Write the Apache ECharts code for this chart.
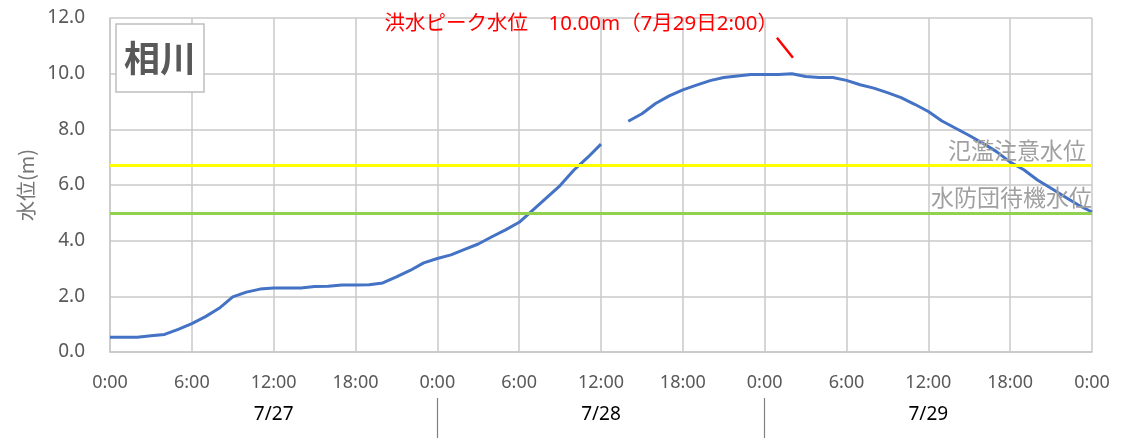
<!DOCTYPE html>
<html>
<head>
<meta charset="utf-8">
<script src="https://cdn.jsdelivr.net/npm/echarts@6/dist/echarts.min.js"></script>
<style>
  html, body { margin: 0; padding: 0; background: #fff; }
  #chart { width: 1124px; height: 438px; }
</style>
</head>
<body>
<div id="chart"></div>
<script>
// 相川 water level, hourly readings from 7/27 0:00 to 7/30 0:00 (hour index 0–72)
const stationName = '相川';
const levels = [
  0.53, 0.53, 0.53, 0.58, 0.63, 0.81, 1.02, 1.27, 1.57, 1.98,
  2.15, 2.26, 2.30, 2.30, 2.30, 2.35, 2.36, 2.41, 2.41, 2.42,
  2.48, 2.70, 2.93, 3.20, 3.36, 3.49, 3.69, 3.88, 4.14, 4.39,
  4.66, 5.10, 5.54, 5.98, 6.53, 6.98, 7.47, null, 8.29, 8.56,
  8.93, 9.20, 9.42, 9.59, 9.75, 9.86, 9.92, 9.97, 9.97, 9.97,
  10.00, 9.90, 9.86, 9.86, 9.76, 9.60, 9.48, 9.32, 9.14, 8.90,
  8.64, 8.30, 8.04, 7.78, 7.50, 7.20, 6.82, 6.55, 6.18, 5.88,
  5.58, 5.28, 5.03
];

// day labels below the time axis, one per 24 hours
const dayLabels = ['7/27', '7/28', '7/29'];

// reference levels
const thresholdNames = ['氾濫注意水位', '水防団待機水位'];
const thresholdLevels = [6.7, 5.0];
const thresholdColors = ['#ffff00', '#92d050'];

// flood peak
const peakHour = 50;
const peakLevel = levels[peakHour];
const peakText = '洪水ピーク水位　' + peakLevel.toFixed(2) + 'm（7月29日2:00）';

const seriesData = levels.map((v, h) => [h, v]);

const gridColor = '#c8c8c8';
const labelColor = '#595959';
const latin = '"Noto Sans", "Noto Sans CJK JP", sans-serif';
const cjk = '"Noto Sans CJK JP", "Noto Sans", sans-serif';

const chart = echarts.init(document.getElementById('chart'), null, { renderer: 'canvas' });

chart.setOption({
  animation: false,
  backgroundColor: '#ffffff',
  title: {
    text: stationName,
    left: 116,
    top: 24,
    padding: [16, 8],
    backgroundColor: '#ffffff',
    borderColor: '#bfbfbf',
    borderWidth: 1.5,
    textStyle: { fontSize: 36, fontWeight: 'bold', color: labelColor, fontFamily: cjk }
  },
  grid: { left: 110, right: 32, top: 18, bottom: 86, containLabel: false },
  xAxis: [
    {
      type: 'value',
      min: 0,
      max: 72,
      interval: 6,
      axisLine: { show: true, lineStyle: { color: gridColor, width: 1.5 } },
      axisTick: { show: false },
      splitLine: { show: true, lineStyle: { color: gridColor, width: 1.5 } },
      axisLabel: {
        margin: 22,
        fontSize: 18,
        color: labelColor,
        fontFamily: latin,
        formatter: v => (v % 24) + ':00'
      }
    },
    {
      type: 'value',
      min: 0,
      max: 72,
      position: 'bottom',
      offset: 46,
      axisLine: { show: false },
      splitLine: { show: false },
      axisTick: {
        show: true,
        customValues: [24, 48],
        length: 42,
        lineStyle: { color: '#808080', width: 1.2 }
      },
      axisLabel: {
        customValues: [12, 36, 60],
        margin: 7,
        fontSize: 19,
        color: '#000000',
        fontFamily: latin,
        formatter: v => dayLabels[Math.floor(v / 24)]
      }
    }
  ],
  yAxis: {
    type: 'value',
    min: 0,
    max: 12,
    interval: 2,
    name: '水位(m)',
    nameLocation: 'middle',
    nameGap: 73,
    nameTextStyle: { fontSize: 20, color: '#767676', fontFamily: cjk },
    axisLine: { show: true, lineStyle: { color: gridColor, width: 1.5 } },
    axisTick: { show: false },
    splitLine: { show: true, lineStyle: { color: gridColor, width: 1.5 } },
    axisLabel: {
      margin: 25,
      fontSize: 19,
      color: labelColor,
      fontFamily: latin,
      formatter: v => v.toFixed(1)
    }
  },
  series: [
    {
      name: 'thresholds',
      type: 'line',
      data: [],
      z: 1,
      silent: true,
      markLine: {
        silent: true,
        symbol: 'none',
        animation: false,
        data: thresholdLevels.map((lv, i) => ({
          yAxis: lv,
          lineStyle: { color: thresholdColors[i], width: 3, type: 'solid' },
          label: {
            show: true,
            position: 'insideEndTop',
            formatter: thresholdNames[i],
            fontSize: 23,
            color: '#a0a0a0',
            fontFamily: cjk,
            distance: [i === 0 ? 6 : 0, 4]
          }
        }))
      }
    },
    {
      name: '水位',
      type: 'line',
      data: seriesData,
      z: 3,
      showSymbol: false,
      symbol: 'none',
      connectNulls: false,
      lineStyle: { color: '#4472c4', width: 3 },
      silent: true
    }
  ]
});

// peak annotation with a short leader line, anchored to the peak point
const peak = chart.convertToPixel({ seriesIndex: 1 }, [peakHour, peakLevel]);
chart.setOption({
  graphic: [
    {
      type: 'text',
      x: peak[0] - 14,
      y: peak[1] - 50,
      style: {
        text: peakText,
        fill: '#ff0000',
        font: '20.5px ' + latin,
        textAlign: 'right',
        textVerticalAlign: 'middle'
      },
      z: 10
    },
    {
      type: 'line',
      shape: { x1: peak[0] - 15, y1: peak[1] - 36, x2: peak[0] + 1, y2: peak[1] - 16 },
      style: { stroke: '#ff0000', lineWidth: 2.5 },
      z: 10
    }
  ]
});
</script>
</body>
</html>
